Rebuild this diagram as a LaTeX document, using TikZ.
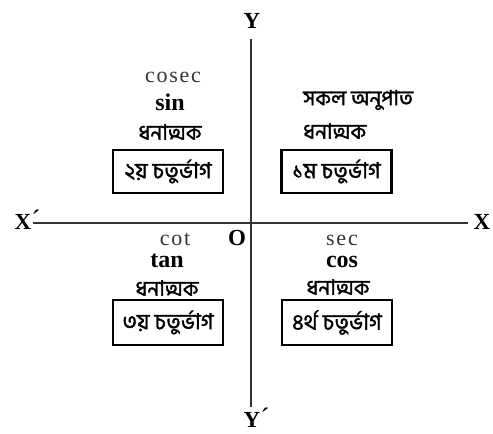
\documentclass[tikz,border=0pt]{standalone}
\usepackage{fontspec}
\setmainfont{Liberation Serif}
\newfontfamily\bnfont[Script=Bengali, FakeBold=1.6]{Hind Siliguri}
\newfontfamily\spacedfont[LetterSpace=8]{Liberation Serif}
\usepackage{tikz}
\usetikzlibrary{positioning}

\begin{document}
\begin{tikzpicture}[
    x=1pt, y=-1pt,
    axis/.style={line width=1.1pt, color=black!80},
    axlabel/.style={font=\fontsize{23}{23}\selectfont\bfseries, inner sep=0pt, anchor=base},
    ratio/.style={font=\spacedfont\fontsize{22}{22}\selectfont, text=black!80, anchor=base, inner sep=0pt},
    fn/.style={font=\fontsize{24}{24}\selectfont\bfseries, anchor=base, inner sep=0pt},
    sign/.style={font=\bnfont\fontsize{21}{21}\selectfont, inner sep=0pt},
    quad/.style={rectangle, draw=black, line width=2.4pt, minimum width=110pt,
                 minimum height=43pt, font=\bnfont\fontsize{22}{22}\selectfont, inner sep=0pt},
]
    \useasboundingbox (0,0) rectangle (493,434);

    \node[axlabel] (xneg) at (23,229) {X\rlap{\normalfont\fontsize{28}{28}\selectfont\textasciiacute}};
    \node[axlabel] (xpos) at (482,229) {X};
    \node[axlabel] (ypos) at (252,28) {Y};
    \node[axlabel] (yneg) at (252,427) {Y\rlap{\normalfont\fontsize{28}{28}\selectfont\textasciiacute}};
    \coordinate (xa) at (33,223);
    \coordinate (xb) at (468,223);
    \coordinate (ya) at (251,39);
    \coordinate (yb) at (251,407);

    \draw[axis] (xa) -- (xb);
    \draw[axis] (ya) -- (yb);

    \node[fn, font=\fontsize{23}{23}\selectfont\bfseries] (orig) at (237,245) {O};

    \node[quad] (q1) at (336.5,171.5) {১ম চতুর্ভাগ};
    \node[quad] (q2) at (168,171.5) {২য় চতুর্ভাগ};
    \node[quad, minimum height=45pt] (q3) at (168,322.5) {৩য় চতুর্ভাগ};
    \node[quad, minimum height=45pt] (q4) at (337,322.5) {৪র্থ চতুর্ভাগ};

    \node[sign, anchor=west] (all1) at (303,100) {সকল অনুপাত};
    \node[sign, anchor=west] (pos1) at (303,131) {ধনাত্মক};

    \node[ratio] (cosec) at (173,82) {cosec};
    \node[fn] (sin) at (170,110) {sin};
    \node[sign] (pos2) at (170,132) {ধনাত্মক};

    \node[ratio] (cot) at (175,245) {cot};
    \node[fn] (tan) at (167,267) {tan};
    \node[sign] (pos3) at (167,288) {ধনাত্মক};

    \node[ratio] (sec) at (342,245) {sec};
    \node[fn] (cos) at (342,267) {cos};
    \node[sign] (pos4) at (338,287) {ধনাত্মক};
\end{tikzpicture}
\end{document}
